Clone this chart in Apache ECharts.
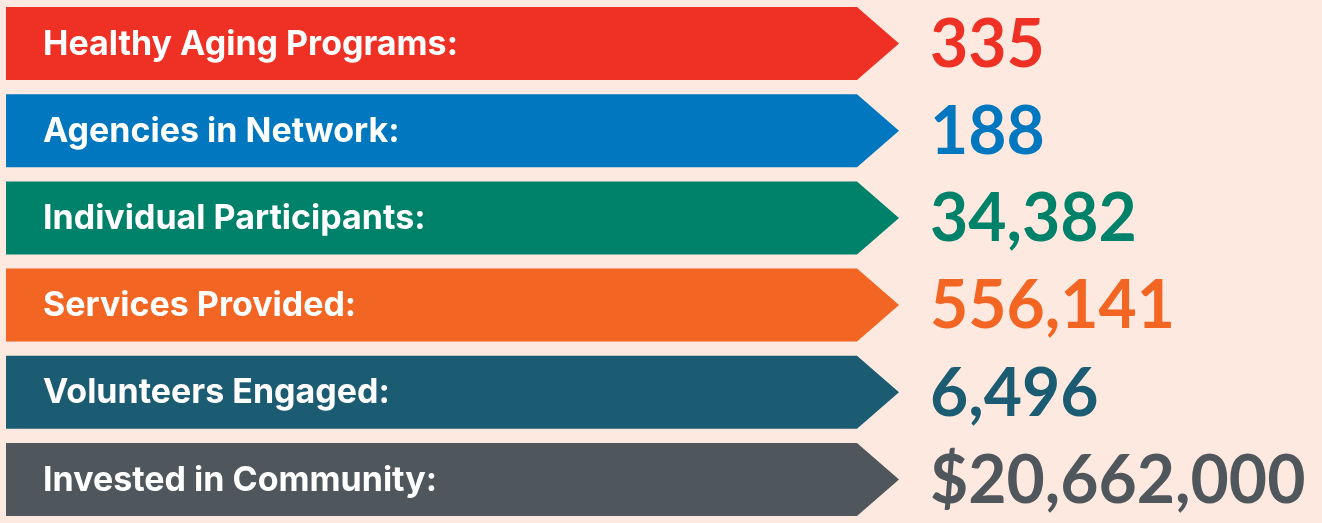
<!DOCTYPE html>
<html>
<head>
<meta charset="utf-8">
<style>
  html, body { margin: 0; padding: 0; background: #fde9df; }
  #main { width: 1322px; height: 523px; }
</style>
<script src="https://cdn.jsdelivr.net/npm/echarts@6/dist/echarts.min.js"></script>
</head>
<body>
<div id="main"></div>
<script>
// rows, top to bottom
const categories = [
  'Healthy Aging Programs:',
  'Agencies in Network:',
  'Individual Participants:',
  'Services Provided:',
  'Volunteers Engaged:',
  'Invested in Community:'
];
const valueLabels = ['335', '188', '34,382', '556,141', '6,496', '$20,662,000'];
const colors = ['#ee3124', '#0077bf', '#00826a', '#f26522', '#1b5c72', '#50575c'];

const chart = echarts.init(document.getElementById('main'));

chart.setOption({
  backgroundColor: '#fde9df',
  animation: false,
  grid: { left: 0, right: 0, top: 0, bottom: -10 },
  xAxis: { type: 'value', min: 0, max: 1322, show: false },
  yAxis: { type: 'category', data: categories, inverse: true, show: false },
  series: [{
    type: 'custom',
    encode: { x: 0, y: 1 },
    data: categories.map((c, i) => [0, c, valueLabels[i]]),
    renderItem: function (params, api) {
      const i = params.dataIndex;
      const yc = api.coord([0, api.value(1)])[1];
      const xStart = api.coord([6, 0])[0];
      const xBody = api.coord([857, 0])[0];
      const xTip = api.coord([899, 0])[0];
      const half = 36.5;
      return {
        type: 'group',
        children: [{
          type: 'polygon',
          shape: {
            points: [
              [xStart, yc - half], [xBody, yc - half], [xTip, yc],
              [xBody, yc + half], [xStart, yc + half]
            ]
          },
          style: { fill: colors[i] }
        }, {
          type: 'text',
          x: 43,
          y: yc + 1,
          style: {
            text: categories[i],
            fill: '#fff',
            font: 'bold 34px Inter',
            verticalAlign: 'middle'
          }
        }, {
          type: 'text',
          x: 930,
          y: yc + 2,
          style: {
            text: valueLabels[i],
            fill: colors[i],
            font: 'bold 66px Lato',
            verticalAlign: 'middle'
          }
        }]
      };
    }
  }]
});
</script>
</body>
</html>
